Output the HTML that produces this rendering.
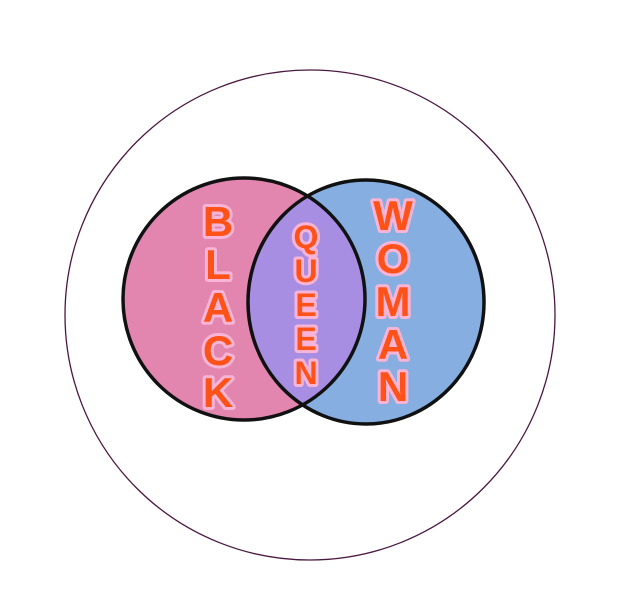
<!DOCTYPE html>
<html><head><style>body{margin:0;background:#fff}svg{display:block}</style></head>
<body>
<svg width="631" height="614" viewBox="0 0 631 614" xmlns="http://www.w3.org/2000/svg">
<defs>
<clipPath id="cp"><ellipse cx="244" cy="299" rx="121" ry="121"/></clipPath>
</defs>
<ellipse cx="310" cy="315" rx="245" ry="245" fill="#fff" stroke="#4a1840" stroke-width="1.3"/>
<ellipse cx="244" cy="299" rx="121" ry="121" fill="#e286b0"/>
<ellipse cx="366" cy="302" rx="118" ry="122" fill="#86aee0"/>
<ellipse cx="366" cy="302" rx="118" ry="122" fill="#a78ee2" clip-path="url(#cp)"/>
<ellipse cx="244" cy="299" rx="121" ry="121" fill="none" stroke="#111" stroke-width="3.5"/>
<ellipse cx="366" cy="302" rx="118" ry="122" fill="none" stroke="#111" stroke-width="3.5"/>
<g font-family="Liberation Sans, sans-serif" font-weight="bold" fill="#ff5218" stroke="#f8b4d6" stroke-width="6" paint-order="stroke" text-anchor="middle" stroke-linejoin="round">
<g font-size="42">
<text x="218" y="236">B</text><text x="218" y="279">L</text><text x="218" y="322">A</text><text x="218" y="365">C</text><text x="218" y="407">K</text>
<text x="393" y="230">W</text><text x="393" y="273">O</text><text x="393" y="316">M</text><text x="393" y="359">A</text><text x="393" y="401">N</text>
</g>
<g font-size="32">
<text x="306" y="248">Q</text><text x="306" y="282">U</text><text x="306" y="316">E</text><text x="306" y="350">E</text><text x="306" y="384">N</text>
</g>
</g>
</svg>
</body></html>
